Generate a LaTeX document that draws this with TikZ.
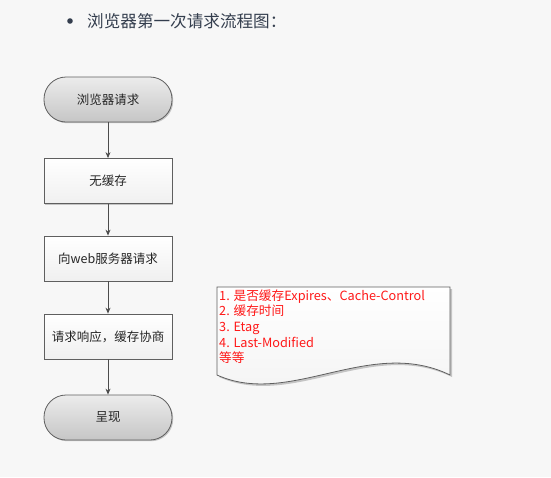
\documentclass[tikz,border=0pt]{standalone}
\usepackage{fontspec}
\setmainfont{Noto Sans CJK SC}
\usetikzlibrary{arrows.meta,shadows}
\definecolor{bgc}{RGB}{247,247,247}
\definecolor{titlec}{RGB}{52,62,78}
\definecolor{edgec}{RGB}{95,95,95}
\definecolor{redc}{RGB}{255,25,25}
\tikzset{
  base/.style={draw=edgec, line width=0.8pt, minimum width=128pt, minimum height=45pt,
    font=\fontsize{12.5}{15}\selectfont, text=black!85,
    drop shadow={shadow xshift=1.2pt, shadow yshift=-1.2pt, opacity=0.35, fill=black!60}},
  term/.style={base, rectangle, rounded corners=22pt, top color=gray!15, bottom color=gray!45},
  proc/.style={base, rectangle, top color=white, bottom color=gray!12},
  flow/.style={draw=black!70, line width=0.8pt, -{Stealth[length=6pt,width=5pt]}},
}
\begin{document}
\begin{tikzpicture}[x=1pt,y=-1pt]
\fill[bgc] (0,0) rectangle (551,477);
\useasboundingbox (0,0) rectangle (551,477);
% title
\fill[titlec] (70,21) circle (2.8pt);
\node[anchor=west, text=titlec, font=\fontsize{16.6}{18}\selectfont, inner sep=0pt] (title) at (87,21) {浏览器第一次请求流程图：};
% flow
\node[term] (n1) at (108,99.5) {浏览器请求};
\node[proc] (n2) at (108,181) {无缓存};
\node[proc] (n3) at (108,258.5) {向web服务器请求};
\node[proc] (n4) at (108,336.5) {请求响应，缓存协商};
\node[term] (n5) at (108,417.5) {呈现};
\draw[flow] (n1) -- (n2);
\draw[flow] (n2) -- (n3);
\draw[flow] (n3) -- (n4);
\draw[flow] (n4) -- (n5);
% document shape
\fill[black!60, opacity=0.35] (219,289) -- (452,289) -- (452,377) .. controls (372,338) and (292,410) .. (219,377) -- cycle;
\draw[draw=edgec, line width=0.8pt, top color=white, bottom color=gray!10]
  (217,287) -- (450,287) -- (450,375) .. controls (370,336) and (290,408) .. (217,375) -- cycle;
\node[anchor=north west, align=left, text=redc, inner sep=0pt,
  font=\fontsize{12.7}{15.6}\selectfont] (doc) at (219,289.5)
  {1. 是否缓存Expires、Cache-Control\\2. 缓存时间\\3. Etag\\4. Last-Modified\\等等};
\end{tikzpicture}
\end{document}
